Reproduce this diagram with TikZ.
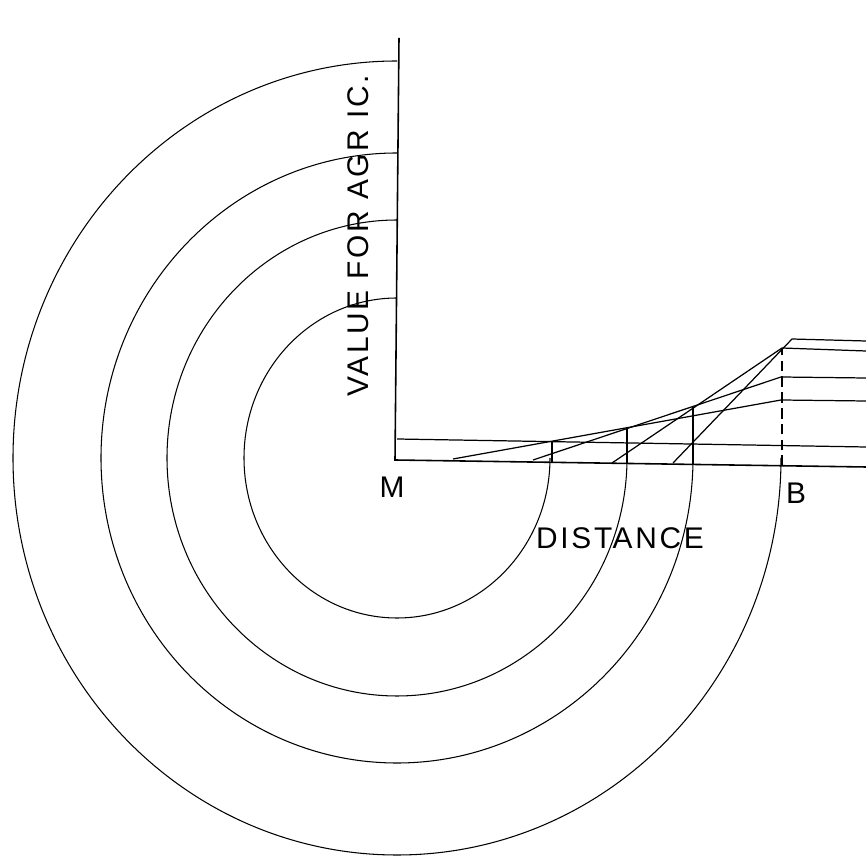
\documentclass[tikz,border=0pt]{standalone}
\usepackage{fontspec}
\setmainfont{Liberation Sans}[LetterSpace=9]
\begin{document}
\begin{tikzpicture}[x=0.02cm,y=-0.02cm,line width=.7pt,
  lbl/.style={inner sep=0pt,font=\fontsize{17}{20}\selectfont}]
\useasboundingbox (0,0) rectangle (866,857);
% axes
\coordinate (T) at (399,38);
\coordinate (O) at (395,460);
\coordinate (R) at (866,467);
\draw[line width=.9pt] (T)--(O)--(R);
\coordinate (H0) at (397,439);
\coordinate (H1) at (866,447);
\draw (H0)--(H1);
% rings
\foreach \rx/\ry in {153/160,230/238,296/305,384/397}
  \draw[line width=.6pt] (397,458-\ry) arc[start angle=-90,end angle=-360,
        x radius=\rx,y radius=\ry];
% rent lines
\coordinate (A0) at (453,459); \coordinate (A1) at (781,400); \coordinate (A2) at (866,401);
\coordinate (B0) at (533,460); \coordinate (B1) at (781,377); \coordinate (B2) at (866,378);
\coordinate (C0) at (612,463); \coordinate (C1) at (782,348); \coordinate (C2) at (866,351);
\coordinate (D0) at (673,463); \coordinate (D1) at (792,339); \coordinate (D2) at (866,341);
\draw (A0)--(A1)--(A2);
\draw (B0)--(B1)--(B2);
\draw (C0)--(C1)--(C2);
\draw (D0)--(D1)--(D2);
% ring ticks
\coordinate (K1) at (552,462); \coordinate (E1) at (552,442);
\coordinate (K2) at (627,463); \coordinate (E2) at (627,428);
\coordinate (K3) at (693,464); \coordinate (E3) at (693,407);
\coordinate (K4) at (782,466);
\draw (K1)--(E1);
\draw (K2)--(E2);
\draw (K3)--(E3);
\draw[dash pattern=on 6pt off 3pt] (K4)--(C1);
% labels
\node[lbl] (m) at (392,487) {M};
\node[lbl] (b) at (796,493) {B};
\node[lbl] (dist) at (620,538) {DISTANCE};
\node[lbl,rotate=90] (val) at (358,236) {VALUE FOR AGR IC.};
\end{tikzpicture}
\end{document}
